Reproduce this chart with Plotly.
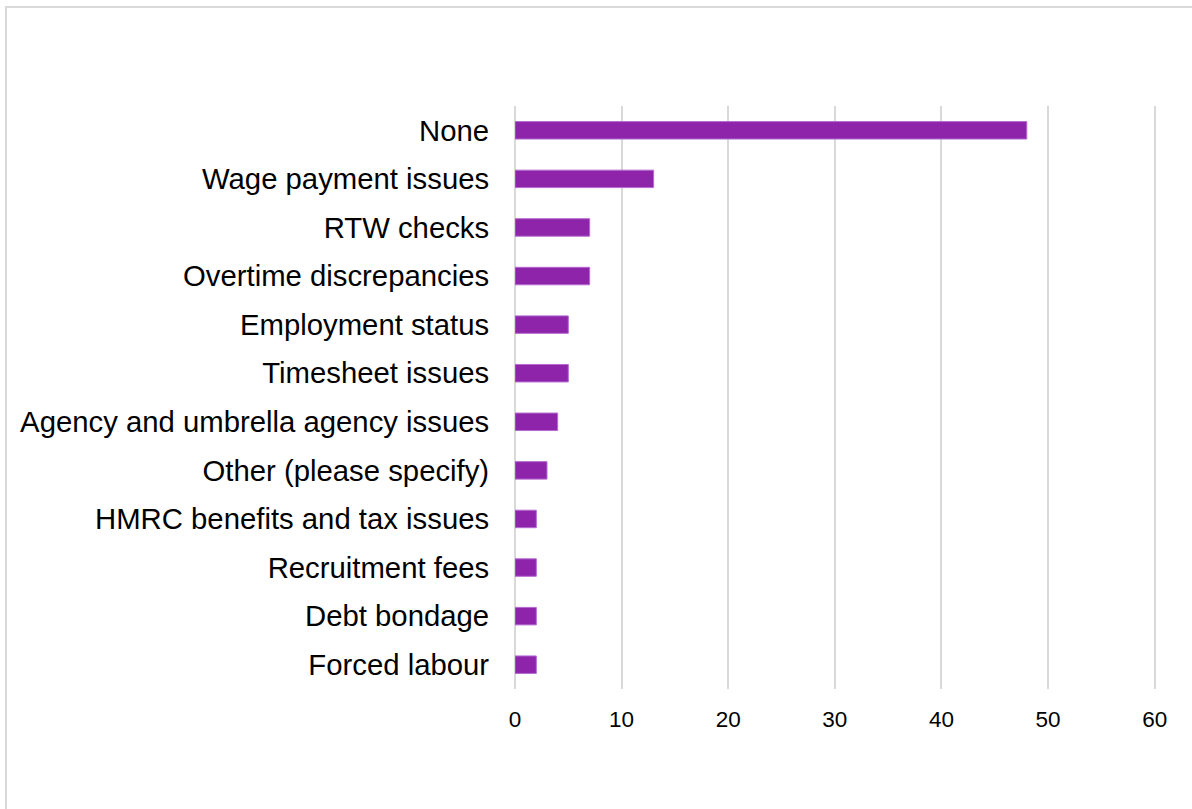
import plotly.graph_objects as go

categories = [
    "None",
    "Wage payment issues",
    "RTW checks",
    "Overtime discrepancies",
    "Employment status",
    "Timesheet issues",
    "Agency and umbrella agency issues",
    "Other (please specify)",
    "HMRC benefits and tax issues",
    "Recruitment fees",
    "Debt bondage",
    "Forced labour",
]
counts = [48, 13, 7, 7, 5, 5, 4, 3, 2, 2, 2, 2]
x_ticks = [0, 10, 20, 30, 40, 50, 60]

W, H = 1192, 809
ml, mr, mt, mb = 515, 36, 106, 120
pw, ph = W - ml - mr, H - mt - mb

fig = go.Figure(
    go.Bar(
        y=categories,
        x=counts,
        orientation="h",
        marker=dict(color="#8E24AA", line=dict(color="#B56BD0", width=1)),
    )
)

fig.update_layout(
    width=W,
    height=H,
    margin=dict(l=ml, r=mr, t=mt, b=mb),
    paper_bgcolor="white",
    plot_bgcolor="white",
    bargap=0.64,
    showlegend=False,
    font=dict(family="Liberation Sans, Arial, sans-serif", color="#000000"),
    xaxis=dict(
        # a little headroom past 60 so its gridline is kept
        range=[0, 60.12],
        tickvals=x_ticks,
        showgrid=True,
        gridcolor="#D9D9D9",
        gridwidth=2,
        zeroline=True,
        zerolinecolor="#D9D9D9",
        zerolinewidth=2,
        showline=False,
        tickfont=dict(size=22.5),
        ticks="outside",
        ticklen=10,
        tickcolor="rgba(0,0,0,0)",
    ),
    yaxis=dict(
        autorange="reversed",
        showgrid=False,
        zeroline=False,
        showline=False,
        tickfont=dict(size=29.3),
        ticks="outside",
        ticklen=19,
        tickcolor="rgba(0,0,0,0)",
    ),
    shapes=[
        # outer frame around the chart
        dict(
            type="rect",
            xref="paper",
            yref="paper",
            x0=(6 - ml) / pw,
            x1=1.2,
            y0=-0.4,
            y1=(H - mb - 7) / ph,
            line=dict(color="#D9D9D9", width=2),
            fillcolor="rgba(0,0,0,0)",
            layer="below",
        )
    ],
)

fig.write_html("out.html")
